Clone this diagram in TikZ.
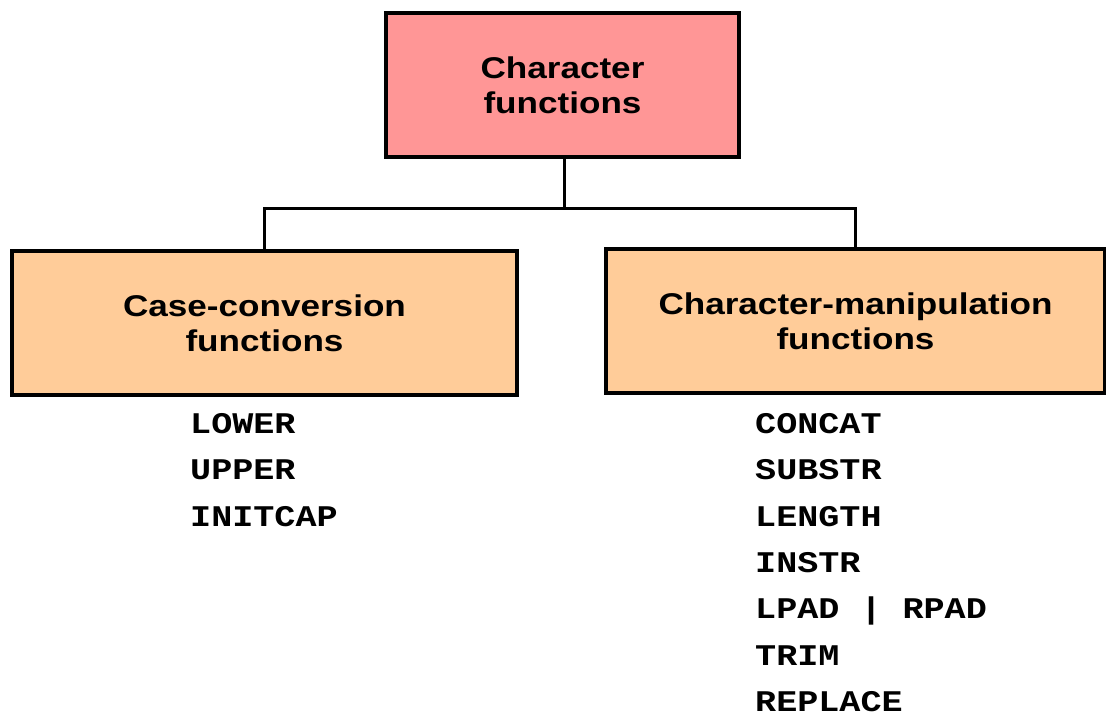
\documentclass[tikz,border=0pt]{standalone}
\usepackage{graphicx}
\usepackage{fontspec}
\setmainfont{Liberation Sans}
\newfontfamily\monof{Liberation Mono}
\definecolor{pinkfill}{HTML}{FF9696}
\definecolor{peach}{HTML}{FFCC99}
\newcommand{\sx}[1]{\scalebox{1.17}[1]{#1}}
\tikzset{
  box/.style={draw=black, line width=3.5pt, align=center, inner sep=0pt,
    font=\fontsize{30}{35}\selectfont\bfseries},
  conn/.style={draw=black, line width=3pt},
  mono/.style={inner sep=0pt, font=\fontsize{30}{36}\selectfont\monof\bfseries}
}
\begin{document}
\begin{tikzpicture}[x=1pt,y=-1pt]
\useasboundingbox (0,0) rectangle (1106,718);
\node[box, fill=pinkfill, minimum width=353pt, minimum height=144pt] (top) at (562.5,85) {\sx{Character}\\\sx{functions}};
\node[box, fill=peach, minimum width=505pt, minimum height=144pt] (left) at (264.5,323) {\sx{Case-conversion}\\\sx{functions}};
\node[box, fill=peach, minimum width=499pt, minimum height=144pt] (right) at (855.5,321) {\sx{Character-manipulation}\\\sx{functions}};
\coordinate (j) at (564,208);
\draw[conn] (top.south -| j) -- (j);
\draw[conn] (left.north) -- (left.north |- j) -- (right.north |- j) -- (right.north);
\foreach \t [count=\i] in {LOWER,UPPER,INITCAP}
  \node[mono, anchor=base west] (l\i) at (190,{433.5+46.3*(\i-1)}) {\sx{\t}};
\foreach \t [count=\i] in {CONCAT,SUBSTR,LENGTH,INSTR,LPAD | RPAD,TRIM,REPLACE}
  \node[mono, anchor=base west] (r\i) at (755,{433.5+46.3*(\i-1)}) {\sx{\t}};
\end{tikzpicture}
\end{document}
